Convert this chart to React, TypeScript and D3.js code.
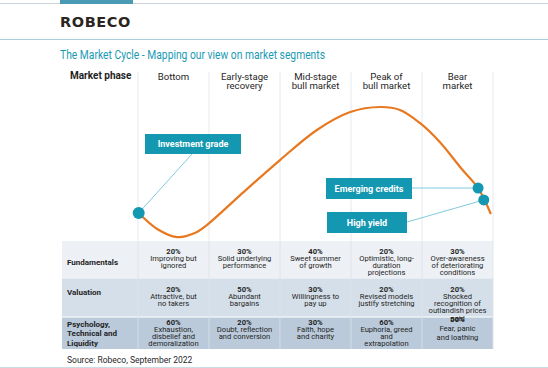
import React from "react";
import * as d3 from "d3";

// ---------- data ----------
const phaseLabels: string[][] = [
  ["Bottom"],
  ["Early-stage", "recovery"],
  ["Mid-stage", "bull market"],
  ["Peak of", "bull market"],
  ["Bear", "market"],
];

// market cycle curve: x = phase position (0..5), y = cycle level (0..10)
const cyclePhase = [0.01, 0.27, 0.55, 0.8, 0.97, 1.44, 2.0, 2.52, 2.99, 3.41, 3.69, 3.97, 4.25, 4.56, 4.79, 4.97];
const cycleLevel = [1.93, 0.79, 0.21, 0.5, 1.07, 3.21, 5.71, 7.86, 9.14, 9.5, 9.29, 8.36, 7.0, 5.07, 3.71, 1.86];

const segmentNames = ["Investment grade", "Emerging credits", "High yield"];
const segmentPhase = [0.01, 4.79, 4.87];
const segmentLevel = [1.93, 3.71, 2.86];

const rowLabels: string[][] = [["Fundamentals"], ["Valuation"], ["Psychology,", "Technical and", "Liquidity"]];

const fundamentalsPct = [20, 30, 40, 20, 30];
const fundamentalsText: string[][] = [
  ["Improving but", "ignored"],
  ["Solid underlying", "performance"],
  ["Sweet summer", "of growth"],
  ["Optimistic, long-", "duration", "projections"],
  ["Over-awareness", "of deteriorating", "conditions"],
];
const valuationPct = [20, 50, 30, 20, 20];
const valuationText: string[][] = [
  ["Attractive, but", "no takers"],
  ["Abundant", "bargains"],
  ["Willingness to", "pay up"],
  ["Revised models", "justify stretching"],
  ["Shocked", "recognition of", "outlandish prices", "paid"],
];
const psychologyPct = [60, 20, 30, 60, 50];
const psychologyText: string[][] = [
  ["Exhaustion,", "disbelief and", "demoralization"],
  ["Doubt, reflection", "and conversion"],
  ["Faith, hope", "and charity"],
  ["Euphoria, greed", "and", "extrapolation"],
  ["Fear, panic", "and loathing"],
];

// ---------- layout / style ----------
const W = 548;
const H = 368;
const TEAL = "#1b9ab4";
const BOX = "#1497b1";
const ORANGE = "#e8781f";
const LINK = "#72c4d8";
const DARK = "#1f1f1f";
const FONT = "'Roboto', 'Noto Sans', sans-serif";

const x = d3.scaleLinear().domain([0, 5]).range([138, 493]);
const y = d3.scaleLinear().domain([0, 10]).range([240, 100]);

const rowTop = [241, 278.5, 317];
const rowBottom = [278.5, 317, 349];
const rowFill = ["#edf1f5", "#d5dfe9", "#bacada"];
const rowTextY = [251, 289, 322];
const rowLabelY = [[262], [292], [324, 333.5, 343]];
const lineGap = 7.3;

const boxes = [
  { x: 145, y: 134, w: 96, h: 20, ax: 192, ay: 154 },
  { x: 326, y: 178, w: 86, h: 21, ax: 412, ay: 188 },
  { x: 327, y: 212, w: 80, h: 21, ax: 407, ay: 222 },
];

const tables = [
  { pct: fundamentalsPct, text: fundamentalsText },
  { pct: valuationPct, text: valuationText },
  { pct: psychologyPct, text: psychologyText },
];

export default function App() {
  const pts: [number, number][] = cyclePhase.map((p, i) => [p, cycleLevel[i]]);
  const line = d3
    .line<[number, number]>()
    .x((d) => x(d[0]))
    .y((d) => y(d[1]))
    .curve(d3.curveCatmullRom.alpha(0.5));

  const boundaries = d3.range(0, 6);

  return (
    <svg width={W} height={H} style={{ position: "absolute", left: 0, top: 0 }} fontFamily={FONT}>
      <rect width={W} height={H} fill="#fff" />
      {/* top bar */}
      <line x1={0} x2={W} y1={3.5} y2={3.5} stroke="#c9d3d9" strokeWidth={1} />
      <rect x={60} y={0} width={73} height={4} fill="#4a9ab5" />
      <text x={60} y={27} fontFamily="'DejaVu Sans', sans-serif" fontWeight={700} fontSize={14.5} fill="#2a2520" letterSpacing={0.6}>
        ROBECO
      </text>
      <line x1={0} x2={W} y1={39.5} y2={39.5} stroke="#a9cfdc" strokeWidth={1} />
      <text x={60} y={58.5} fontSize={13} fill={TEAL} textLength={265} lengthAdjust="spacingAndGlyphs">
        The Market Cycle - Mapping our view on market segments
      </text>

      {/* header */}
      <text x={70} y={79} fontSize={10} fontWeight={700} fill={DARK}>
        Market phase
      </text>
      {phaseLabels.map((lines, i) => (
        <text key={i} x={x(i + 0.5)} y={80} fontSize={9.6} fill={DARK} textAnchor="middle">
          {lines.map((l, j) => (
            <tspan key={j} x={x(i + 0.5)} dy={j === 0 ? 0 : 9}>
              {l}
            </tspan>
          ))}
        </text>
      ))}

      {/* table backgrounds */}
      {rowTop.map((t, i) => (
        <rect key={i} x={62} y={t} width={x(5) - 62} height={rowBottom[i] - t} fill={rowFill[i]} />
      ))}
      <line x1={62} x2={x(5)} y1={317} y2={317} stroke="#fff" strokeWidth={1} />

      {/* vertical grid */}
      {boundaries.map((b) => (
        <line key={b} x1={x(b)} x2={x(b)} y1={72} y2={349} stroke="#dde2e7" strokeWidth={0.8} />
      ))}

      {/* curve */}
      <path d={line(pts) || ""} fill="none" stroke={ORANGE} strokeWidth={2.2} />

      {/* annotation links */}
      {boxes.map((b, i) => (
        <line key={i} x1={b.ax} y1={b.ay} x2={x(segmentPhase[i])} y2={y(segmentLevel[i])} stroke={LINK} strokeWidth={0.9} />
      ))}
      {boxes.map((b, i) => (
        <g key={i}>
          <rect x={b.x} y={b.y} width={b.w} height={b.h} fill={BOX} />
          <text x={b.x + b.w / 2} y={b.y + b.h / 2 + 3.2} fontSize={9} fontWeight={700} fill="#fff" textAnchor="middle">
            {segmentNames[i]}
          </text>
        </g>
      ))}
      {segmentNames.map((n, i) => (
        <circle key={n} cx={x(segmentPhase[i])} cy={y(segmentLevel[i])} r={i === 0 ? 6 : 5.5} fill={BOX} />
      ))}

      {/* table text */}
      {rowLabels.map((lines, i) => (
        <text key={i} fontSize={8} fontWeight={700} fill={DARK}>
          {lines.map((l, j) => (
            <tspan key={j} x={67} y={rowLabelY[i][j] + 2.5}>
              {l}
            </tspan>
          ))}
        </text>
      ))}
      {tables.map((row, r) =>
        row.pct.map((p, c) => {
          const special = r === 2 && c === 4;
          const y0 = special ? rowTextY[r] - 3 : rowTextY[r];
          const cx = x(c + 0.5);
          return (
            <text key={`${r}-${c}`} fill={DARK} textAnchor="middle" fontSize={7.6}>
              <tspan x={cx} y={y0 + 2.5} fontWeight={700}>
                {p}%
              </tspan>
              {row.text[c].map((l, j) => (
                <tspan key={j} x={cx} y={y0 + 2.5 + (j + 1) * lineGap + (special ? 2.5 + j * 1.6 : 0)}>
                  {l}
                </tspan>
              ))}
            </text>
          );
        })
      )}

      <text x={67} y={363} fontSize={8.5} fill={DARK}>
        Source: Robeco, September 2022
      </text>
      <line x1={0} x2={W} y1={367.5} y2={367.5} stroke="#c9dde5" strokeWidth={1} />
    </svg>
  );
}
